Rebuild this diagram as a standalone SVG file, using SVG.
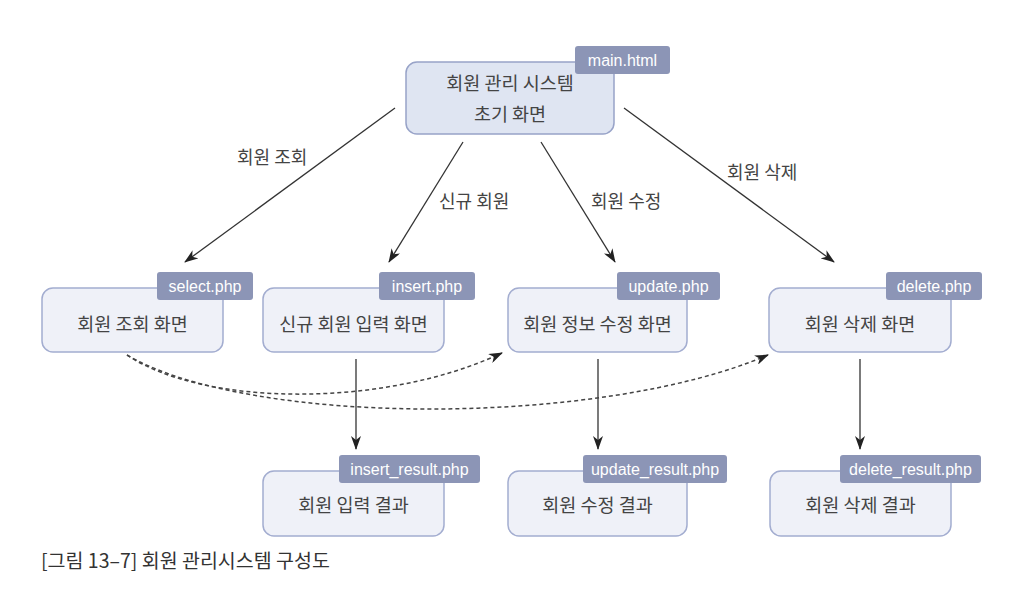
<svg xmlns="http://www.w3.org/2000/svg" width="1018" height="590" viewBox="0 0 1018 590">
<defs>
<style>
.box{fill:#eff1f8;stroke:#a3add0;stroke-width:1.5}
.main{fill:#dfe5f2;stroke:#98a3c8;stroke-width:1.5}
.tag{fill:#8c95b6}
.tt{font-family:"Liberation Sans","Noto Sans",sans-serif;font-size:16px;fill:#ffffff;text-anchor:middle}
.nt{font-family:"Noto Sans CJK KR","Noto Sans",sans-serif;font-size:18.5px;fill:#444;text-anchor:middle}
.lb{font-family:"Noto Sans CJK KR","Noto Sans",sans-serif;font-size:18px;fill:#444}
.ln{fill:none;stroke:#333;stroke-width:1.3}
.dl{fill:none;stroke:#444;stroke-width:1.5;stroke-dasharray:4 3}
</style>
<marker id="ah" viewBox="0 0 14 10" refX="13" refY="5" markerWidth="14" markerHeight="10" markerUnits="userSpaceOnUse" orient="auto">
<path d="M0,0 L14,5 L0,10 L4,5 z" fill="#222"/>
</marker>
</defs>
<rect width="1018" height="590" fill="#ffffff"/>

<g id="connectors">
<line class="ln" x1="395" y1="108" x2="185" y2="262" marker-end="url(#ah)"/>
<line class="ln" x1="463" y1="142" x2="389" y2="262" marker-end="url(#ah)"/>
<line class="ln" x1="541" y1="142" x2="615" y2="262" marker-end="url(#ah)"/>
<line class="ln" x1="624" y1="108" x2="834" y2="262" marker-end="url(#ah)"/>
<line class="ln" x1="356" y1="359" x2="356" y2="449" marker-end="url(#ah)"/>
<line class="ln" x1="598" y1="359" x2="598" y2="449" marker-end="url(#ah)"/>
<line class="ln" x1="860" y1="359" x2="860" y2="449" marker-end="url(#ah)"/>
<path class="dl" d="M127,355 C200,405 380,410 502,353" marker-end="url(#ah)"/>
<path class="dl" d="M127,355 C250,427 600,427 768,355" marker-end="url(#ah)"/>
<text class="lb" x="237" y="164">회원 조회</text>
<text class="lb" x="439" y="208">신규 회원</text>
<text class="lb" x="591" y="208">회원 수정</text>
<text class="lb" x="727" y="179">회원 삭제</text>
</g>

<g id="main">
<rect class="main" x="406" y="62" width="208" height="72" rx="11"/>
<text class="nt" x="510" y="90">회원 관리 시스템</text>
<text class="nt" x="510" y="121">초기 화면</text>
<rect class="tag" x="575" y="46" width="95" height="28" rx="3"/>
<text class="tt" x="622.5" y="66">main.html</text>
</g>

<g id="select">
<rect class="box" x="42" y="288" width="181" height="64" rx="11"/>
<text class="nt" x="132.5" y="331">회원 조회 화면</text>
<rect class="tag" x="157" y="272" width="96" height="28" rx="3"/>
<text class="tt" x="205" y="292">select.php</text>
</g>

<g id="insert">
<rect class="box" x="263" y="288" width="181" height="64" rx="11"/>
<text class="nt" x="353.5" y="331">신규 회원 입력 화면</text>
<rect class="tag" x="379" y="272" width="96" height="28" rx="3"/>
<text class="tt" x="427" y="292">insert.php</text>
</g>

<g id="update">
<rect class="box" x="508" y="288" width="179" height="64" rx="11"/>
<text class="nt" x="597.5" y="331">회원 정보 수정 화면</text>
<rect class="tag" x="617" y="272" width="103" height="28" rx="3"/>
<text class="tt" x="668.5" y="292">update.php</text>
</g>

<g id="delete">
<rect class="box" x="769" y="288" width="182" height="64" rx="11"/>
<text class="nt" x="860" y="331">회원 삭제 화면</text>
<rect class="tag" x="886" y="272" width="96" height="28" rx="3"/>
<text class="tt" x="934" y="292">delete.php</text>
</g>

<g id="insert_result">
<rect class="box" x="263" y="471" width="181" height="65" rx="11"/>
<text class="nt" x="353.5" y="512">회원 입력 결과</text>
<rect class="tag" x="339" y="455" width="141" height="28" rx="3"/>
<text class="tt" x="409.5" y="475">insert_result.php</text>
</g>

<g id="update_result">
<rect class="box" x="508" y="471" width="179" height="65" rx="11"/>
<text class="nt" x="597.5" y="512">회원 수정 결과</text>
<rect class="tag" x="583" y="455" width="144" height="28" rx="3"/>
<text class="tt" x="655" y="475">update_result.php</text>
</g>

<g id="delete_result">
<rect class="box" x="770" y="471" width="181" height="65" rx="11"/>
<text class="nt" x="860.5" y="512">회원 삭제 결과</text>
<rect class="tag" x="840" y="455" width="141" height="28" rx="3"/>
<text class="tt" x="910.5" y="475">delete_result.php</text>
</g>

<text x="41" y="568" font-family="'Noto Sans CJK KR','Noto Sans',sans-serif" font-size="19.5" fill="#333">[그림 13–7] 회원 관리시스템 구성도</text>
</svg>
